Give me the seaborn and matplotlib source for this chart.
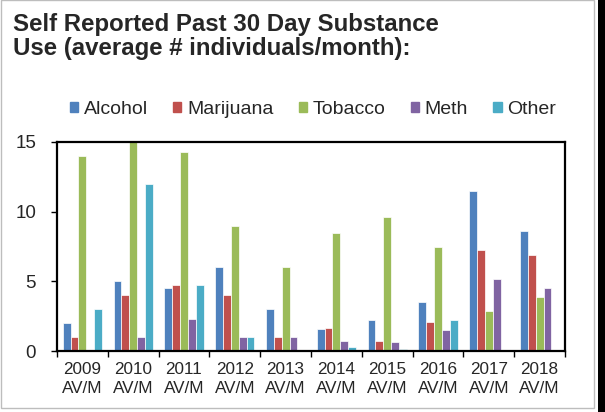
import numpy as np
import pandas as pd
import matplotlib
matplotlib.use('Agg')
import matplotlib.pyplot as plt
from matplotlib.patches import Rectangle
import seaborn as sns

# data
years = ['2009', '2010', '2011', '2012', '2013', '2014', '2015', '2016', '2017', '2018']
substances = ['Alcohol', 'Marijuana', 'Tobacco', 'Meth', 'Other']
alcohol = [2, 5, 4.5, 6, 3, 1.6, 2.25, 3.5, 11.5, 8.6]
marijuana = [1, 4, 4.75, 4, 1, 1.65, 0.75, 2.1, 7.25, 6.9]
tobacco = [14, 15, 14.25, 9, 6, 8.5, 9.65, 7.5, 2.85, 3.9]
meth = [0, 1, 2.3, 1, 1, 0.75, 0.67, 1.5, 5.2, 4.5]
other = [3, 12, 4.75, 1, 0, 0.3, 0.12, 2.25, 0, 0]
colors = ['#4F81BD', '#C0504D', '#9BBB59', '#8064A2', '#4BACC6']

labels = [y + '\nAV/M' for y in years]
df = pd.DataFrame({'year': labels, 'Alcohol': alcohol, 'Marijuana': marijuana,
                   'Tobacco': tobacco, 'Meth': meth, 'Other': other})
df = df.melt(id_vars='year', var_name='substance', value_name='value')

sns.set_style('white')
plt.rcParams['font.family'] = ['Liberation Sans', 'DejaVu Sans']

fig = plt.figure(figsize=(6.05, 4.12), dpi=100)
ax = fig.add_axes([57 / 605, 61 / 412, 508 / 605, 209 / 412])

sns.barplot(data=df, x='year', y='value', hue='substance', hue_order=substances,
            palette=colors, width=0.77, edgecolor='white', linewidth=0.5,
            saturation=1, ax=ax)

ax.set_ylim(0, 15)
ax.set_yticks([0, 5, 10, 15])
ax.set_xlim(-0.5, 9.5)
ax.set_xlabel('')
ax.set_ylabel('')
ax.tick_params(axis='y', labelsize=13.5, length=4, width=1, pad=11, left=True, color='black')
ax.tick_params(axis='x', which='major', labelsize=12.3, length=0, pad=8)
ax.set_xticks(np.arange(-0.5, 10, 1), minor=True)
ax.tick_params(axis='x', which='minor', length=4, width=1, bottom=True, color='black')
for s in ax.spines.values():
    s.set_color('black')
    s.set_linewidth(1.6)
for t in ax.get_xticklabels():
    t.set_linespacing(1.3)

ax.get_legend().remove()
handles = [Rectangle((0, 0), 1, 1, color=c) for c in colors]
fig.legend(handles, substances, loc='center', bbox_to_anchor=(313 / 605, 1 - 109 / 412),
           ncol=5, frameon=False, fontsize=14, handlelength=0.42, handleheight=0.42,
           handletextpad=0.3, columnspacing=1.3, borderpad=0)

fig.text(13 / 605, 1 - 13 / 412,
         'Self Reported Past 30 Day Substance\nUse (average # individuals/month):',
         fontsize=17.3, fontweight='bold', ha='left', va='top', linespacing=1.05)

# chart frame
fig.patches.append(Rectangle((1 / 605, 4 / 412), 593 / 605, 408 / 412, transform=fig.transFigure,
                             fill=False, edgecolor='#bdbdbd', linewidth=1))
fig.patches.append(Rectangle((598 / 605, 0), 7 / 605, 1, transform=fig.transFigure,
                             facecolor='black', edgecolor='none'))

fig.savefig('out.png', dpi=100)
